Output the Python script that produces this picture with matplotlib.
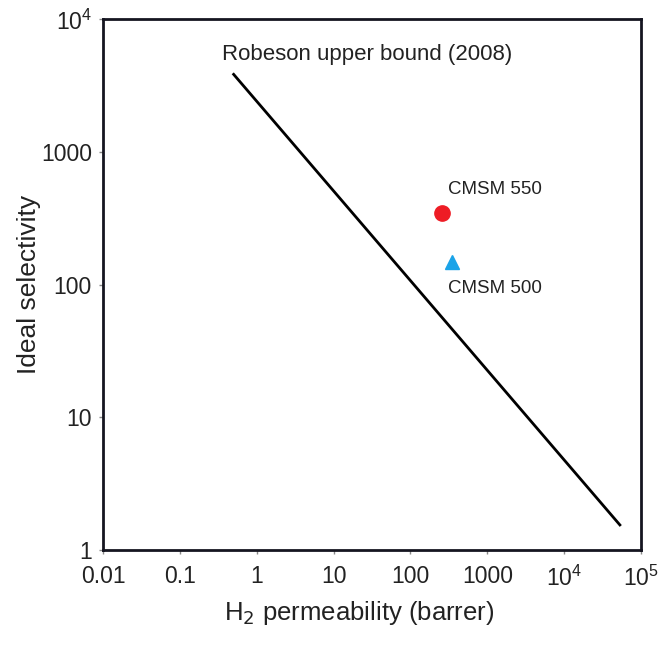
import matplotlib
matplotlib.use("Agg")
import matplotlib.pyplot as plt
from matplotlib.ticker import FixedLocator, FixedFormatter, NullLocator

plt.rcParams['font.family'] = ['Liberation Sans', 'DejaVu Sans']

# Robeson upper bound (2008), endpoints
bound_x = [0.5, 53000]
bound_y = [3850, 1.55]

# membrane points
cmsm550 = (260, 350)
cmsm500 = (350, 148)

xticks = [0.01, 0.1, 1, 10, 100, 1000, 1e4, 1e5]
xticklabels = ["0.01", "0.1", "1", "10", "100", "1000", "$\\mathregular{10^4}$", "$\\mathregular{10^5}$"]
yticks = [1, 10, 100, 1000, 1e4]
yticklabels = ["1", "10", "100", "1000", "$\\mathregular{10^4}$"]

fig = plt.figure(figsize=(6.65, 6.45), dpi=100)
ax = fig.add_axes([0.155, 0.147, 0.809, 0.823])

ax.plot(bound_x, bound_y, color="black", lw=2)
ax.plot(*cmsm550, marker="o", color="#ee1c25", ms=11, ls="none")
ax.plot(*cmsm500, marker="^", color="#1aa3e8", ms=10, ls="none")

ax.set_xscale("log")
ax.set_yscale("log")
ax.set_xlim(0.01, 1e5)
ax.set_ylim(1, 1e4)

ax.xaxis.set_major_locator(FixedLocator(xticks))
ax.xaxis.set_major_formatter(FixedFormatter(xticklabels))
ax.xaxis.set_minor_locator(NullLocator())
ax.yaxis.set_major_locator(FixedLocator(yticks))
ax.yaxis.set_major_formatter(FixedFormatter(yticklabels))
ax.yaxis.set_minor_locator(NullLocator())
ax.tick_params(axis="both", length=3, width=1, labelsize=16.5, color="#888888", labelcolor="#222222")
ax.tick_params(axis="x", pad=8)
ax.tick_params(axis="y", pad=5)

for s in ax.spines.values():
    s.set_linewidth(2)
    s.set_color("#151520")

ax.text(0.35, 4500, "Robeson upper bound (2008)", fontsize=16, ha="left", va="bottom", color="#222222")
ax.text(310, 450, "CMSM 550", fontsize=13.5, ha="left", va="bottom", color="#222222")
ax.text(310, 108, "CMSM 500", fontsize=13.5, ha="left", va="top", color="#222222")

ax.set_xlabel("H$_2$ permeability (barrer)", fontsize=18.5, labelpad=6, x=0.476, color="#222222")
ax.set_ylabel("Ideal selectivity", fontsize=19, labelpad=0, color="#222222")

fig.savefig("out.png", dpi=100)
